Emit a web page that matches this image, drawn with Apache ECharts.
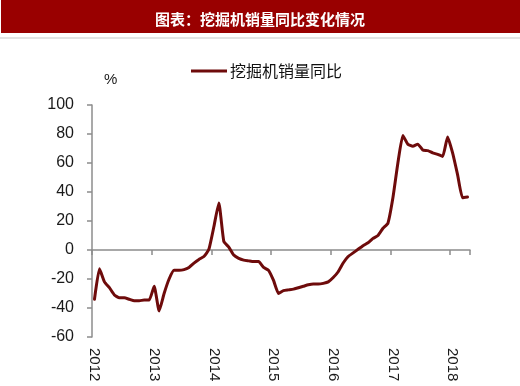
<!DOCTYPE html>
<html>
<head>
<meta charset="utf-8">
<script src="https://cdn.jsdelivr.net/npm/echarts@6/dist/echarts.min.js"></script>
<style>html,body{margin:0;padding:0;background:#fff}#c{width:520px;height:386px}</style>
</head>
<body>
<div id="c"></div>
<script>
var titleText = '图表：挖掘机销量同比变化情况';
var seriesName = '挖掘机销量同比';
var yTicks = [-60, -40, -20, 0, 20, 40, 60, 80, 100];
var years = [2012, 2013, 2014, 2015, 2016, 2017, 2018];
var lastMonthOf2018 = 4;
var months = [];
years.forEach(function (y) {
  for (var m = 1; m <= 12; m++) {
    if (y === 2018 && m > lastMonthOf2018) break;
    months.push(y + '-' + (m < 10 ? '0' + m : m));
  }
});
var yoy = [
  -34, -13, -22, -26, -31, -33, -33, -34, -35, -35, -34.5, -34.5,
  -25, -42, -30, -20, -14, -14, -13.5, -12, -9, -6.5, -4.5, 0.5,
  16, 32.5, 6, 2, -3.5, -5.8, -7, -7.5, -8, -8, -12, -14,
  -21, -30, -28, -27.5, -27, -26, -25, -24, -23.5, -23.5, -23, -22,
  -19, -15, -9, -4.5, -2, 0.5, 3, 5, 8, 10, 15, 18.5,
  36, 60, 79, 73, 71.5, 73, 69, 68.5, 67, 66, 64.5, 78,
  67, 52, 36, 36.5
];

var chart = echarts.init(document.getElementById('c'), null, {renderer: 'canvas'});
var axisGray = '#8c8c8c';
var labelFont = '"Liberation Sans", Arial, sans-serif';
chart.setOption({
  animation: false,
  backgroundColor: '#fff',
  graphic: [
    {type: 'rect', left: 1, top: 0, shape: {width: 519, height: 33}, style: {fill: '#990000'}, z: 0},
    {type: 'rect', left: 0, top: 37, shape: {width: 520, height: 2}, style: {fill: '#e3e3e3'}, z: 0}
  ],
  title: {
    text: titleText,
    left: 'center',
    top: 7,
    textStyle: {color: '#ffffff', fontSize: 15, fontWeight: 'bold', fontFamily: '"Noto Sans CJK SC", sans-serif'}
  },
  legend: {
    left: 186,
    top: 58,
    itemWidth: 36,
    itemHeight: 3,
    itemGap: 4,
    icon: 'rect',
    data: [seriesName],
    textStyle: {color: '#111', fontSize: 16, fontFamily: '"Noto Sans CJK SC", sans-serif', padding: [0, 0, 0, -2]}
  },
  grid: {left: 92, right: 50, top: 105, bottom: 49, containLabel: false},
  xAxis: [
    {
      type: 'category',
      data: months,
      boundaryGap: true,
      axisLine: {onZero: true, lineStyle: {color: axisGray, width: 1.5}},
      axisTick: {show: true, interval: 11, length: 5, lineStyle: {color: axisGray, width: 1.5}},
      axisLabel: {show: false},
      splitLine: {show: false}
    },
    {
      type: 'category',
      data: months,
      position: 'bottom',
      boundaryGap: true,
      axisLine: {show: false, onZero: false},
      axisTick: {show: false},
      axisLabel: {
        show: true, interval: 11, rotate: -90, margin: 11,
        color: '#1a1a1a', fontSize: 15, fontFamily: labelFont,
        formatter: function (v) { return v.slice(0, 4); }
      },
      splitLine: {show: false}
    }
  ],
  yAxis: {
    type: 'value',
    min: yTicks[0],
    max: yTicks[yTicks.length - 1],
    interval: 20,
    name: '%',
    nameLocation: 'end',
    nameGap: 18,
    nameTextStyle: {color: '#1a1a1a', fontSize: 15, fontFamily: labelFont, align: 'left', padding: [0, 0, 0, 12]},
    axisLine: {show: true, lineStyle: {color: axisGray, width: 1.5}},
    axisTick: {show: true, inside: false, length: 5, lineStyle: {color: axisGray, width: 1.5}},
    axisLabel: {color: '#1a1a1a', fontSize: 16, fontFamily: labelFont, margin: 18},
    splitLine: {show: false}
  },
  series: [{
    name: seriesName,
    type: 'line',
    xAxisIndex: 0,
    data: yoy,
    showSymbol: false,
    symbol: 'none',
    smooth: 0.15,
    lineStyle: {color: '#6e0b0b', width: 3, join: 'round', cap: 'round'},
    itemStyle: {color: '#6e0b0b'}
  }]
});
</script>
</body>
</html>
